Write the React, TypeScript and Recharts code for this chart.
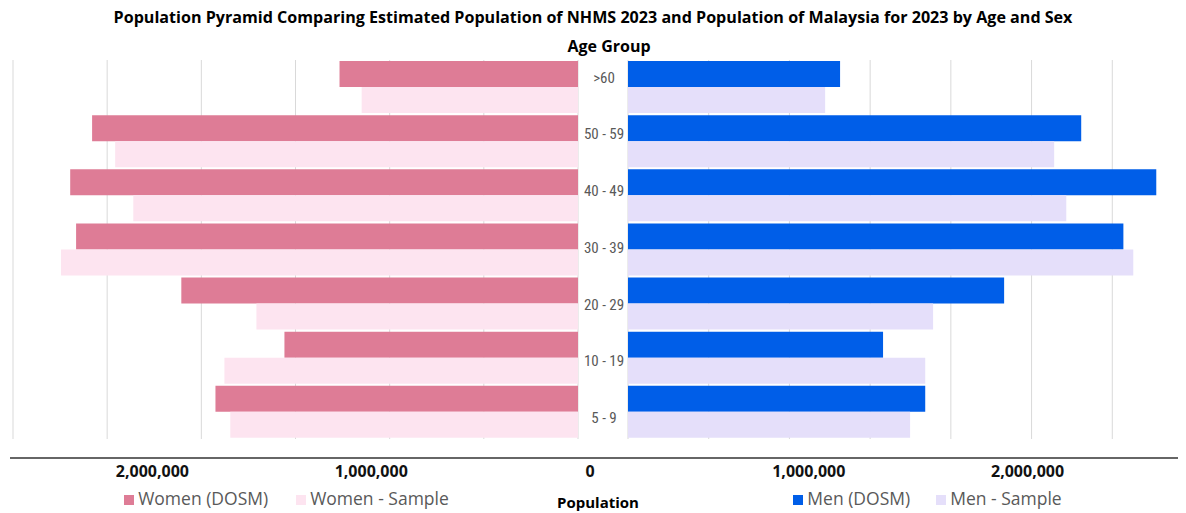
import React from 'react';
import { BarChart, Bar, XAxis, YAxis, CartesianGrid, Legend, ComposedChart } from 'recharts';

const ageGroups = ['>60', '50 - 59', '40 - 49', '30 - 39', '20 - 29', '10 - 19', '5 - 9'];
const womenDosm = [1013000, 2064000, 2157000, 2132000, 1685000, 1247000, 1540000];
const womenSample = [919000, 1966000, 1889000, 2196000, 1366000, 1502000, 1477000];
const menDosm = [1051000, 2246000, 2618000, 2455000, 1864000, 1264000, 1473000];
const menSample = [977000, 2112000, 2172000, 2504000, 1512000, 1473000, 1398000];
const gridTicks = [0, 400000, 800000, 1200000, 1600000, 2000000, 2400000];
const populationTicks = [-2000000, -1000000, 0, 1000000, 2000000];

const data = ageGroups.map((age, i) => ({
  age,
  womenDosm: womenDosm[i],
  womenSample: womenSample[i],
  menDosm: menDosm[i],
  menSample: menSample[i],
}));
const axisData = populationTicks.map((pop) => ({ pop }));

const FONT = '"Open Sans", "Noto Sans", sans-serif';
const NARROW = '"Liberation Sans Narrow", "Roboto Condensed", "DejaVu Sans Condensed", sans-serif';
const GRID = '#d9d9d9';

const legendText = (v: string) => <span style={{ color: '#595959' }}>{v}</span>;
const legendStyle = { fontFamily: FONT, fontSize: 17.5, bottom: 3 };

export default function App() {
  return (
    <div style={{ position: 'relative', width: 1178, height: 505, fontFamily: FONT }}>
      <style>{`#left .recharts-legend-item{margin-right:28px !important}#right .recharts-legend-item{margin-right:26px !important}`}</style>
      <div style={{ position: 'absolute', left: 0, top: -2, width: 1170, textAlign: 'center', fontSize: 16.1, lineHeight: '22px', fontWeight: 700, color: '#000', whiteSpace: 'nowrap' }}>
        Population Pyramid Comparing Estimated Population of NHMS 2023 and Population of Malaysia for 2023 by Age and Sex
      </div>
      <div style={{ position: 'absolute', left: 501, top: 27, width: 200, textAlign: 'center', fontSize: 16, lineHeight: '22px', fontWeight: 700, color: '#000' }}>
        Age Group
      </div>

      <div id="left" style={{ position: 'absolute', left: 0, top: 0 }}>
        <BarChart width={580} height={505} data={data} layout="vertical" barCategoryGap={1} barGap={0}
          margin={{ top: 52, right: 10, left: 5, bottom: 50 }}>
          <CartesianGrid horizontal={false} stroke={GRID} />
          <XAxis type="number" domain={[0, 2400000]} ticks={gridTicks} reversed hide />
          <YAxis type="category" dataKey="age" hide />
          <Bar dataKey="womenDosm" name="Women (DOSM)" fill="#de7c96" isAnimationActive={false} />
          <Bar dataKey="womenSample" name="Women - Sample" fill="#fde4f0" isAnimationActive={false} />
          <Legend verticalAlign="bottom" iconType="square" iconSize={10} formatter={legendText}
            wrapperStyle={{ ...legendStyle, left: 10 }} />
        </BarChart>
      </div>

      <div id="right" style={{ position: 'absolute', left: 570, top: 0, width: 608, height: 505, overflow: 'hidden' }}>
        <BarChart width={620} height={505} data={data} layout="vertical" barCategoryGap={1} barGap={0}
          margin={{ top: 52, right: 5, left: 0, bottom: 50 }}>
          <CartesianGrid horizontal={false} stroke={GRID} />
          <XAxis type="number" domain={[0, 2800000]} ticks={gridTicks} hide />
          <YAxis yAxisId={0} type="category" dataKey="age" width={0} hide />
          <YAxis yAxisId="labels" type="category" dataKey="age" width={50} axisLine={false} tickLine={false}
            tickSize={0} tickMargin={24} padding={{ top: -11, bottom: -7 }}
            tick={{ textAnchor: 'middle', fill: '#595959', fontSize: 15, fontFamily: NARROW }} />
          <Bar dataKey="menDosm" name="Men (DOSM)" fill="#005ee8" isAnimationActive={false} />
          <Bar dataKey="menSample" name="Men - Sample" fill="#e5dffa" isAnimationActive={false} />
          <Legend verticalAlign="bottom" iconType="square" iconSize={10} formatter={legendText}
            wrapperStyle={{ ...legendStyle, left: 55 }} />
        </BarChart>
      </div>

      <div style={{ position: 'absolute', left: 0, top: 425 }}>
        <ComposedChart width={1178} height={80} data={axisData} margin={{ top: 0, right: 0, left: 2, bottom: 0 }}>
          <XAxis type="number" dataKey="pop" domain={[-2651000, 2724000]} allowDataOverflow ticks={populationTicks}
            interval={0} height={55}
            tickFormatter={(v: number) => Math.abs(v).toLocaleString('en-US')}
            axisLine={{ stroke: '#666', strokeWidth: 2 }} tickLine={false}
            tick={{ fontSize: 16, fontWeight: 700, fill: '#111', fontFamily: FONT }}
            label={{ value: 'Population', position: 'insideBottom', offset: 5, style: { fontSize: 15, fontWeight: 700, fill: '#000', fontFamily: FONT } }} />
          <YAxis hide />
        </ComposedChart>
      </div>
    </div>
  );
}
